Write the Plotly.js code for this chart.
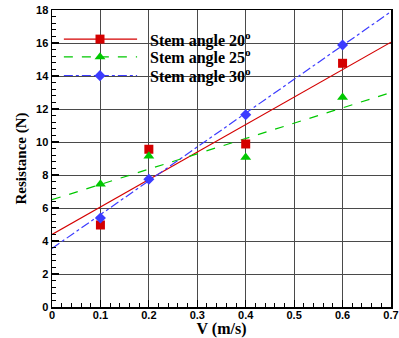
<!DOCTYPE html>
<html>
<head>
<meta charset="utf-8">
<script src="https://cdn.plot.ly/plotly-3.0.1.min.js"></script>
<style>html,body{margin:0;padding:0;background:#fff;}#chart{width:399px;height:338px;}</style>
</head>
<body>
<div id="chart"></div>
<script>
// Measured data
var velocity = [0.1, 0.2, 0.4, 0.6];
var angle20 = [4.97, 9.56, 9.88, 14.77];
var angle25 = [7.45, 9.15, 9.07, 12.71];
var angle30 = [5.39, 7.74, 11.65, 15.88];

// Fitted trend lines (end points)
var fitX = [0, 0.7];
var fit20 = [4.4, 16.05];
var fit25 = [6.5, 13.0];
var fit30 = [3.55, 17.9];

// Tick labels
var xTickVals = [0, 0.1, 0.2, 0.3, 0.4, 0.5, 0.6, 0.7];
var xTickText = ['0', '0.1', '0.2', '0.3', '0.4', '0.5', '0.6', '0.7'];
var yTickVals = [0, 2, 4, 6, 8, 10, 12, 14, 16, 18];
var yTickText = ['0', '2', '4', '6', '8', '10', '12', '14', '16', '18'];

var seriesNames = ['Stem angle 20<sup>o</sup>', 'Stem angle 25<sup>o</sup>', 'Stem angle 30<sup>o</sup>'];
var colors = ['#d40000', '#00c800', '#3c3cff'];
var dashes = ['solid', 'dash', 'dashdot'];
var symbols = ['square', 'triangle-up', 'diamond'];
var sizes = [9, 9.5, 8.5];

var fits = [fit20, fit25, fit30];
var vals = [angle20, angle25, angle30];

var traces = [];
for (var i = 0; i < 3; i++) {
  traces.push({x: fitX, y: fits[i], mode: 'lines', type: 'scatter',
    line: {color: colors[i], width: 1.2, dash: dashes[i]}, showlegend: false, hoverinfo: 'skip'});
}
for (var i = 0; i < 3; i++) {
  traces.push({x: velocity, y: vals[i], mode: 'markers', type: 'scatter',
    marker: {color: colors[i], symbol: symbols[i], size: sizes[i], line: {width: 0}}, showlegend: false});
}

// Custom legend (paper-like overlay axis)
var legX0 = 0.035, legX1 = 0.251, legMark = 0.1416, legText = 0.284;
var legY = [0.902, 0.842, 0.779];
var shapes = [{type: 'rect', xref: 'paper', yref: 'paper', x0: 0.004, x1: 0.614, y0: 0.735, y1: 0.976,
  fillcolor: '#ffffff', line: {width: 0}, layer: 'between'}];
var annotations = [];
for (var i = 0; i < 3; i++) {
  shapes.push({type: 'line', xref: 'paper', yref: 'paper', x0: legX0, x1: legX1, y0: legY[i], y1: legY[i],
    line: {color: colors[i], width: 1.2, dash: dashes[i]}, layer: 'between'});
  annotations.push({xref: 'paper', yref: 'paper', x: legText, y: legY[i], xanchor: 'left', yanchor: 'middle',
    text: '<b>' + seriesNames[i] + '</b>', showarrow: false,
    font: {family: 'Liberation Serif, Times New Roman, serif', size: 16, color: '#000'}});
  traces.push({x: [legMark], y: [legY[i]], xaxis: 'x2', yaxis: 'y2', mode: 'markers', type: 'scatter',
    marker: {color: colors[i], symbol: symbols[i], size: sizes[i], line: {width: 0}}, showlegend: false, hoverinfo: 'skip'});
}

var tickFont = {family: 'Liberation Sans, Arial, sans-serif', size: 11, color: '#000', weight: 'bold'};
var titleFont = {family: 'Liberation Serif, Times New Roman, serif', size: 16, color: '#000', weight: 'bold'};

var layout = {
  width: 399, height: 338,
  margin: {l: 52, r: 8, t: 10, b: 31},
  paper_bgcolor: '#fff', plot_bgcolor: '#fff',
  showlegend: false,
  xaxis: {range: [0, 0.7], tickmode: 'array', tickvals: xTickVals, ticktext: xTickText,
    showgrid: true, gridcolor: '#4a4a4a', gridwidth: 1,
    zeroline: false, showline: true, linecolor: '#000', linewidth: 1.5, mirror: true,
    ticks: 'inside', ticklen: 7, tickwidth: 1.2, tickcolor: '#000', tickfont: tickFont, ticklabelstandoff: -3,
    minor: {dtick: 0.02, ticks: 'inside', ticklen: 4, tickwidth: 1, tickcolor: '#000', showgrid: false},
    title: {text: 'V (m/s)', font: titleFont, standoff: 0}},
  yaxis: {range: [0, 18], tickmode: 'array', tickvals: yTickVals, ticktext: yTickText,
    showgrid: true, gridcolor: '#4a4a4a', gridwidth: 1,
    zeroline: false, showline: true, linecolor: '#000', linewidth: 1.5, mirror: true,
    ticks: 'inside', ticklen: 7, tickwidth: 1.2, tickcolor: '#000', tickfont: tickFont,
    minor: {dtick: 0.4, ticks: 'inside', ticklen: 4, tickwidth: 1, tickcolor: '#000', showgrid: false},
    title: {text: 'Resistance (N)', font: {family: titleFont.family, size: 15, color: '#000', weight: 'bold'}, standoff: 6}},
  xaxis2: {overlaying: 'x', range: [0, 1], visible: false, fixedrange: true},
  yaxis2: {overlaying: 'y', range: [0, 1], visible: false, fixedrange: true},
  shapes: shapes,
  annotations: annotations
};

Plotly.newPlot('chart', traces, layout, {displayModeBar: false, staticPlot: true});
</script>
</body>
</html>
